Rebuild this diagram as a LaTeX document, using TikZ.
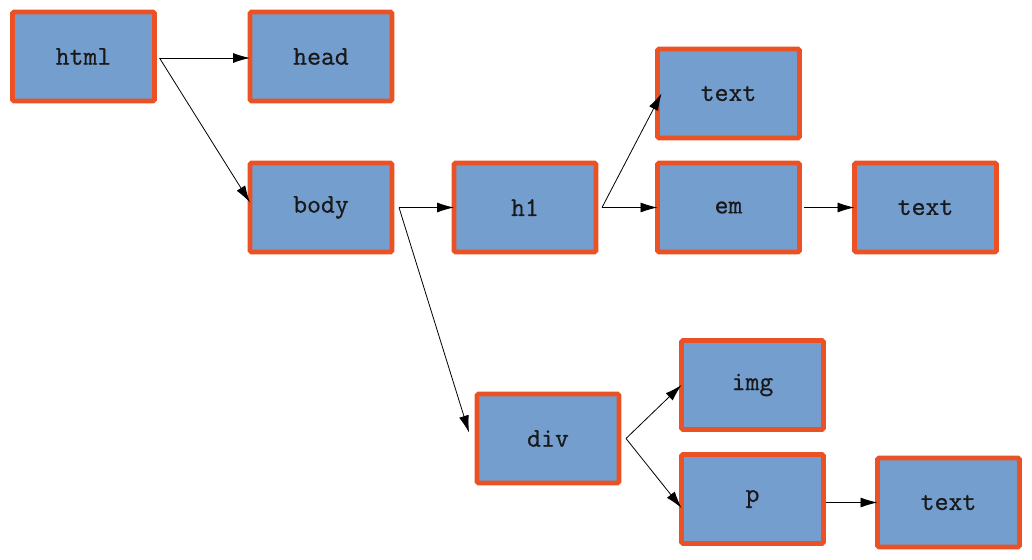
\documentclass[tikz,border=0pt]{standalone}
\usepackage{fontspec}
\newfontfamily\boxfont{Latin Modern Mono}[FakeBold=0.7]
\usetikzlibrary{arrows.meta}
\definecolor{boxfill}{RGB}{115,158,206}
\definecolor{boxline}{RGB}{234,82,38}
\tikzset{
  el/.style={draw=boxline, fill=boxfill, line width=4.8pt, rounded corners=1.5pt,
    minimum width=142pt, minimum height=89pt, inner sep=0pt, outer sep=0pt,
    font=\boxfont\fontsize{27}{27}\selectfont, text=black!90},
  conn/.style={-{Latex[length=17pt,width=10pt]}, line width=0.8pt, black},
}
\begin{document}
\begin{tikzpicture}[x=1pt,y=-1pt]
\useasboundingbox (0,0) rectangle (1032,559);
\node[el] (html) at (83.5,56.5) {html};
\node[el] (head) at (321,56.5) {head};
\node[el] (body) at (321,207.5) {body};
\node[el] (h1) at (525,207.5) {h1};
\node[el] (t1) at (728.5,93.5) {text};
\node[el] (em) at (728.5,207.5) {em};
\node[el] (t2) at (925.5,207.5) {text};
\node[el] (img) at (752.5,385) {img};
\node[el] (div) at (548,438.5) {div};
\node[el] (p) at (752.5,499) {p};
\node[el] (t3) at (948.5,502.5) {text};
\coordinate (htmlo) at ([xshift=5pt,yshift=-1.5pt]html.east);
\coordinate (bodyo) at ([xshift=7pt]body.east);
\coordinate (h1o) at ([xshift=6pt]h1.east);
\coordinate (emo) at ([xshift=4pt]em.east);
\coordinate (divo) at ([xshift=7pt]div.east);
\coordinate (po) at ([xshift=2pt,yshift=-3.5pt]p.east);
\coordinate (bodyi) at ([yshift=5pt]body.west);
\coordinate (divi) at ([xshift=-8pt,yshift=6pt]div.west);
\coordinate (pi) at ([yshift=-9pt]p.west);
\coordinate (headi) at ([yshift=-1.5pt]head.west);
\coordinate (t1i) at ([xshift=4pt]t1.west);
\draw[conn] (htmlo) -- (headi);
\draw[conn] (htmlo) -- (bodyi);
\draw[conn] (bodyo) -- (h1.west);
\draw[conn] (bodyo) -- (divi);
\draw[conn] (h1o) -- (t1i);
\draw[conn] (h1o) -- (em.west);
\draw[conn] (emo) -- (t2.west);
\draw[conn] (divo) -- (img.west);
\draw[conn] (divo) -- (pi);
\draw[conn] (po) -- (t3.west);
\end{tikzpicture}
\end{document}
